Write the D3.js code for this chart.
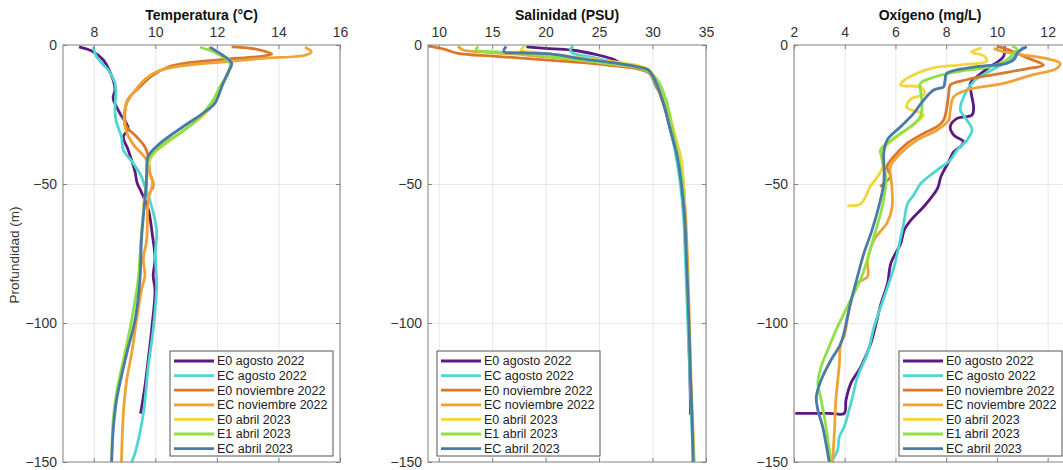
<!DOCTYPE html>
<html>
<head>
<meta charset="utf-8">
<script src="https://cdn.jsdelivr.net/npm/d3@7"></script>
<style>
  body { margin: 0; background: #fff; }
  text { font-family: "Liberation Sans", Arial, sans-serif; }
</style>
</head>
<body>
<div id="chart"></div>
<script>
// perfiles verticales: [valor, profundidad]

var series = ["E0 agosto 2022", "EC agosto 2022", "E0 noviembre 2022", "EC noviembre 2022",
              "E0 abril 2023", "E1 abril 2023", "EC abril 2023"];
var colors = ["#5c1a80", "#4fd6d2", "#d9772b", "#efa236", "#f3d53c", "#8ee046", "#4a7ba6"];

var depthTicks = [0, -50, -100, -150];

// temperatura
var tempTicks = [8, 10, 12, 14, 16];
var tE0ago = [[7.52,-0.7],[7.98,-2.4],[8.31,-5.4],[8.5,-9],[8.63,-12.6],[8.69,-16],[8.63,-19.2],[8.85,-24.6],[9.12,-30],[8.96,-33],[9.12,-37.8],[9.34,-45.6],[9.41,-49.7],[9.55,-53],[9.77,-59],[9.9,-68],[9.99,-77],[9.93,-83],[9.99,-88],[9.88,-102.5],[9.77,-113],[9.66,-123],[9.52,-132.6]];
var tECago = [[7.98,-0.7],[8.09,-4.2],[8.3,-7],[8.47,-9],[8.69,-13.7],[8.72,-17.3],[8.69,-22],[8.72,-27],[8.9,-33],[8.96,-37.8],[9.28,-42.5],[9.55,-47.4],[9.66,-51],[9.82,-55.8],[10.04,-66.5],[10.0,-75],[10.04,-84.5],[10.04,-88],[9.93,-102.5],[9.77,-115.7],[9.61,-132.6],[9.34,-146.8],[9.23,-150]];
var tE0nov = [[12.48,-0.7],[13.1,-1.2],[13.4,-1.8],[13.78,-3.2],[13.5,-4],[12.2,-5.2],[11.0,-6.5],[10.4,-8],[9.9,-11],[9.5,-15],[9.1,-19.8],[9.01,-24.5],[9.06,-29.3],[9.39,-33],[9.66,-36.6],[9.77,-40.2],[9.82,-46],[9.93,-49.7],[9.9,-52]];
var tECnov = [[14.86,-0.8],[15.07,-2.4],[14.9,-3.6],[13.5,-4.8],[12.31,-6],[10.69,-7.8],[10.04,-9.6],[9.7,-12],[9.44,-15],[9.07,-21],[8.98,-25.8],[9.07,-31.5],[9.3,-36],[9.72,-41.4],[9.82,-46],[9.91,-49.7],[9.77,-55.8],[9.72,-70],[9.61,-77],[9.66,-83],[9.55,-88],[9.39,-99],[9.23,-111],[9.07,-120.5],[8.96,-132.6],[8.9,-150]];
var tE0abr = [[11.7,-1],[12.05,-3],[12.45,-6],[12.38,-10],[12.15,-15],[11.95,-20],[11.6,-25],[11.0,-30],[10.4,-35],[9.95,-39],[9.75,-44],[9.72,-50],[9.66,-55],[9.6,-58]];
var tE1abr = [[11.45,-0.8],[11.99,-3],[12.42,-6.6],[12.37,-10.2],[12.1,-15],[11.88,-19.8],[11.45,-25.8],[10.8,-31.8],[10.47,-34],[10.04,-37.8],[9.77,-41.4],[9.72,-46],[9.7,-51],[9.61,-60.5],[9.55,-67.6],[9.44,-84.5],[9.23,-99],[9.01,-111],[8.74,-125],[8.63,-135],[8.58,-150]];
var tECabr = [[11.77,-0.8],[12.1,-3],[12.48,-6.6],[12.37,-9.6],[12.2,-13.8],[11.93,-21],[11.55,-24.5],[10.9,-29.4],[10.15,-35.4],[9.77,-40],[9.72,-46],[9.7,-51],[9.66,-55.8],[9.55,-70],[9.5,-84.5],[9.34,-99],[9.07,-111],[8.74,-127.7],[8.63,-138.7],[8.58,-150]];

// salinidad
var salTicks = [10, 15, 20, 25, 30, 35];
var sE0ago = [[18.2,-0.7],[20,-1.2],[22.4,-1.8],[24.9,-3.6],[26.2,-5],[27.1,-6.6],[29,-8.4],[29.9,-10.2],[30.5,-15],[31.1,-22],[31.7,-31],[32.3,-40],[32.7,-50],[33.0,-62],[33.2,-80],[33.35,-100],[33.5,-120],[33.55,-133]];
var sECago = [[22.6,-0.4],[22.3,-1.5],[22.5,-2.8],[24.5,-4.5],[26.2,-6],[28.0,-7.5],[29.0,-8.4],[29.8,-10.2],[30.3,-15],[31.3,-20],[31.5,-25],[31.8,-32],[32.2,-40],[32.6,-50],[32.9,-62],[33.1,-80],[33.3,-100],[33.5,-120],[33.7,-140],[33.8,-150]];
var sE0nov = [[9.0,-0.4],[10.5,-1.5],[11.8,-3],[15,-4],[18.05,-4.8],[21.5,-5.8],[24.3,-6.6],[26.5,-7.5],[28.4,-8.4],[29.7,-10.2],[30.4,-15],[31.1,-22],[31.8,-31],[32.5,-40],[32.8,-52]];
var sECnov = [[11.8,-0.5],[12.3,-1.8],[14,-2.5],[18,-3.5],[22,-5],[25,-6],[27.4,-7.2],[29.5,-9],[30.1,-12],[30.6,-16],[31.3,-22],[31.9,-31],[32.6,-40],[32.9,-50],[33.1,-62],[33.3,-80],[33.45,-100],[33.6,-120],[33.7,-130],[33.8,-140],[33.9,-150]];
var sE0abr = [[18.05,-0.5],[17.7,-1.8],[19.5,-2.8],[21.2,-3.6],[24.5,-5.2],[27.4,-6.6],[29.5,-8.5],[30.1,-11],[30.7,-15],[31.4,-22],[32.0,-31],[32.6,-40],[32.9,-50],[33.0,-58]];
var sE1abr = [[13.7,-0.5],[13.5,-1.8],[15.5,-2.5],[18.05,-3],[21,-4.5],[24.3,-6],[27,-7.3],[29,-8.5],[30.1,-11],[30.8,-15],[31.4,-22],[31.9,-31],[32.4,-40],[32.8,-50],[33.0,-62],[33.2,-80],[33.4,-100],[33.55,-120],[33.7,-135],[33.85,-150]];
var sECabr = [[16.3,-0.5],[16.1,-2.4],[18,-2.8],[20.4,-3.2],[23.5,-5],[26.7,-6.6],[28.5,-7.8],[29.6,-9],[30.0,-11],[30.5,-15],[31.1,-22],[31.7,-31],[32.3,-40],[32.7,-50],[33.0,-62],[33.2,-80],[33.4,-100],[33.55,-120],[33.7,-135],[33.8,-150]];

// oxigeno
var oxTicks = [2, 4, 6, 8, 10, 12];
var oE0ago = [[10.3,-0.5],[10.26,-4.2],[9.7,-8],[9.21,-11.4],[8.95,-13.8],[9.0,-18],[9.08,-22.2],[9.02,-25.2],[8.43,-26.4],[8.16,-29.4],[8.3,-32.4],[8.69,-34.8],[8.56,-36.6],[8.3,-38.4],[8.1,-42],[7.79,-47.4],[7.66,-51.6],[7.13,-58],[6.61,-63],[6.35,-66.5],[6.21,-71.3],[5.82,-78.5],[5.69,-85.7],[5.43,-93],[5.03,-107.3],[4.64,-115.7],[4.24,-121.7],[4.05,-127.7],[3.98,-132.5],[3.4,-132.5],[2.05,-132.5]];
var oECago = [[11.05,-0.6],[10.8,-3],[10.52,-5.4],[9.8,-9],[9.1,-13],[8.69,-18.6],[8.56,-23.4],[8.82,-27],[9.02,-30.6],[8.82,-34.2],[8.43,-37.8],[8.16,-41.4],[7.64,-45],[7.0,-49.8],[6.72,-54],[6.48,-57],[6.33,-64],[6.21,-69],[5.95,-79.7],[5.56,-90.5],[5.16,-101.3],[4.9,-110.8],[4.51,-119.3],[4.24,-129],[3.98,-137.3],[3.79,-140.9],[3.72,-145.7],[3.46,-150]];
var oE0nov = [[10.0,-0.5],[10.4,-1.5],[10.8,-3],[11.3,-5],[11.84,-7.2],[11.2,-8.5],[10.0,-10.5],[8.8,-12.5],[8.16,-14.4],[8.1,-17.4],[8.03,-22.2],[7.9,-27],[7.64,-29.4],[7.11,-31.8],[6.46,-35.4],[5.93,-40.2],[5.67,-43.8],[5.8,-47.4],[5.54,-49.8],[5.4,-51]];
var oECnov = [[9.87,-1.2],[10.26,-2.4],[11.05,-3.6],[12.0,-5],[12.49,-6.6],[12.36,-8.4],[11.3,-11],[10.26,-13.8],[8.82,-16.2],[8.3,-18.6],[8.16,-23.4],[8.1,-27],[7.64,-30.6],[6.85,-34.2],[6.2,-39],[5.8,-43.8],[5.85,-49.8],[5.87,-58.2],[5.67,-64],[5.16,-70],[4.9,-77.3],[4.9,-83.3],[4.51,-85.7],[4.24,-92],[3.98,-104.7],[3.85,-107],[3.78,-115.7],[3.65,-127.7],[3.59,-139.7],[3.52,-150]];
var oE0abr = [[9.4,-1],[9.0,-2.5],[9.5,-4],[9.6,-5.8],[8.5,-7.2],[7.5,-8.2],[6.9,-10],[6.3,-13],[6.2,-14.4],[7.0,-15.2],[7.15,-17.5],[6.6,-19.5],[6.45,-22.5],[7.1,-25],[6.8,-28],[6.2,-32],[5.6,-36.6],[5.45,-40],[5.5,-43.8],[5.2,-48.6],[5.0,-51],[4.8,-55],[4.62,-57.2],[4.1,-57.9]];
var oE1abr = [[10.6,-0.5],[10.79,-1.5],[10.6,-3.5],[10.39,-5.4],[9.74,-7.8],[8.43,-9.6],[7.38,-12],[6.98,-13.8],[7.0,-17],[7.05,-21],[6.98,-25.8],[6.59,-29.4],[6.2,-31.8],[5.67,-35.4],[5.41,-37.8],[5.5,-41.4],[5.6,-46],[5.62,-50],[5.43,-60],[5.16,-68.6],[4.9,-77],[4.64,-84],[4.11,-94],[3.72,-101.3],[3.33,-109.7],[3.07,-115.7],[2.94,-121.7],[3.07,-127.7],[3.26,-137.3],[3.39,-145.7],[3.46,-150]];
var oECabr = [[11.18,-0.6],[10.9,-2],[10.79,-3],[10.7,-5],[10.39,-6.6],[9.21,-7.8],[8.03,-10.2],[7.95,-13],[7.9,-15],[7.51,-16.2],[7.11,-19.8],[6.72,-24.6],[6.2,-29.4],[5.67,-34.2],[5.54,-39],[5.55,-43.8],[5.54,-49.8],[5.34,-58.2],[5.05,-67.3],[4.77,-74.5],[4.51,-83],[4.24,-92.5],[4.11,-97.7],[3.85,-107.3],[3.46,-113.3],[3.07,-120.5],[2.88,-126.5],[2.94,-131.3],[3.13,-137.3],[3.26,-143.3],[3.39,-150]];

var width = 1063,
    height = 470;

var top_ = 45, bottom = 462;

var svg = d3.select("#chart").append("svg")
    .attr("width", width)
    .attr("height", height);

var y = d3.scaleLinear().domain([-150, 0]).range([bottom, top_]);

var panels = [
  { title: "Temperatura (°C)", left: 63, right: 340, domain: [7, 16], ticks: tempTicks,
    data: [tE0ago, tECago, tE0nov, tECnov, tE0abr, tE1abr, tECabr], legendX: 170 },
  { title: "Salinidad (PSU)", left: 428, right: 706, domain: [9, 35], ticks: salTicks,
    data: [sE0ago, sECago, sE0nov, sECnov, sE0abr, sE1abr, sECabr], legendX: 437 },
  { title: "Oxígeno (mg/L)", left: 794, right: 1073, domain: [2, 13], ticks: oxTicks,
    data: [oE0ago, oECago, oE0nov, oECnov, oE0abr, oE1abr, oECabr], legendX: 899, titleX: 930 }
];

var line = d3.line().curve(d3.curveCatmullRom.alpha(0.5));

panels.forEach(function(p, i) {
  var x = d3.scaleLinear().domain(p.domain).range([p.left, p.right]);
  var g = svg.append("g");
  var h = bottom - top_;

  // grid
  g.append("g").attr("transform", "translate(0," + top_ + ")")
    .call(d3.axisTop(x).tickValues(p.ticks).tickSize(-h).tickFormat(""))
    .call(function(s) { s.select(".domain").remove(); s.selectAll("line").attr("stroke", "#e6e6e6"); });
  g.append("g").attr("transform", "translate(" + p.left + ",0)")
    .call(d3.axisLeft(y).tickValues([-50, -100]).tickSize(-(p.right - p.left)).tickFormat(""))
    .call(function(s) { s.select(".domain").remove(); s.selectAll("line").attr("stroke", "#e6e6e6"); });

  // clip
  svg.append("clipPath").attr("id", "clip" + i)
    .append("rect").attr("x", p.left).attr("y", top_).attr("width", p.right - p.left).attr("height", h);

  // perfiles
  g.append("g").attr("clip-path", "url(#clip" + i + ")")
    .selectAll("path")
    .data(p.data)
    .enter().append("path")
    .attr("fill", "none")
    .attr("stroke", function(d, j) { return colors[j]; })
    .attr("stroke-width", 2.8)
    .attr("stroke-linejoin", "round")
    .attr("d", function(d) { return line(d.map(function(v) { return [x(v[0]), y(v[1])]; })); });

  // ejes
  var ax = g.append("g").attr("transform", "translate(0," + top_ + ")")
    .call(d3.axisTop(x).tickValues(p.ticks).tickSize(-4).tickPadding(8).tickFormat(d3.format("d")));
  var ay = g.append("g").attr("transform", "translate(" + p.left + ",0)")
    .call(d3.axisLeft(y).tickValues(depthTicks).tickSize(-4).tickPadding(6).tickFormat(d3.format("d")));
  var ab = g.append("g").attr("transform", "translate(0," + bottom + ")")
    .call(d3.axisBottom(x).tickValues(p.ticks).tickSize(-4).tickFormat(""));
  var ar = g.append("g").attr("transform", "translate(" + p.right + ",0)")
    .call(d3.axisRight(y).tickValues(depthTicks).tickSize(-4).tickFormat(""));
  [ax, ay, ab, ar].forEach(function(a) {
    a.select(".domain").remove();
    a.selectAll("line").attr("stroke", "#808080");
    a.selectAll("text").attr("fill", "#333").style("font-size", "14px")
      .style("font-family", "'Liberation Sans', Arial, sans-serif");
  });

  g.append("rect")
    .attr("x", p.left).attr("y", top_)
    .attr("width", p.right - p.left).attr("height", h)
    .attr("fill", "none").attr("stroke", "#808080").attr("stroke-width", 1);

  g.append("text")
    .attr("x", p.titleX || (p.left + p.right) / 2)
    .attr("y", 20)
    .attr("text-anchor", "middle")
    .attr("font-weight", "bold")
    .attr("font-size", "14px")
    .attr("fill", "#111")
    .text(p.title);

  // leyenda
  var lw = 163, lh = 105, ly = 351;
  var lg = g.append("g").attr("transform", "translate(" + p.legendX + "," + ly + ")");
  lg.append("rect").attr("width", lw).attr("height", lh)
    .attr("fill", "#fff").attr("stroke", "#555").attr("stroke-width", 1);
  var rows = lg.selectAll("g.row").data(series).enter().append("g")
    .attr("class", "row")
    .attr("transform", function(d, j) { return "translate(0," + (10 + j * 14.6) + ")"; });
  rows.append("line")
    .attr("x1", 4).attr("x2", 44)
    .attr("stroke", function(d, j) { return colors[j]; })
    .attr("stroke-width", 2.8);
  rows.append("text")
    .attr("x", 47).attr("dy", "0.35em")
    .attr("font-size", "12.5px")
    .attr("fill", "#222")
    .text(function(d) { return d; });
});

// etiqueta eje y
svg.append("text")
  .attr("transform", "translate(19,255) rotate(-90)")
  .attr("text-anchor", "middle")
  .attr("font-size", "13.5px")
  .attr("fill", "#333")
  .text("Profundidad (m)");
</script>
</body>
</html>
